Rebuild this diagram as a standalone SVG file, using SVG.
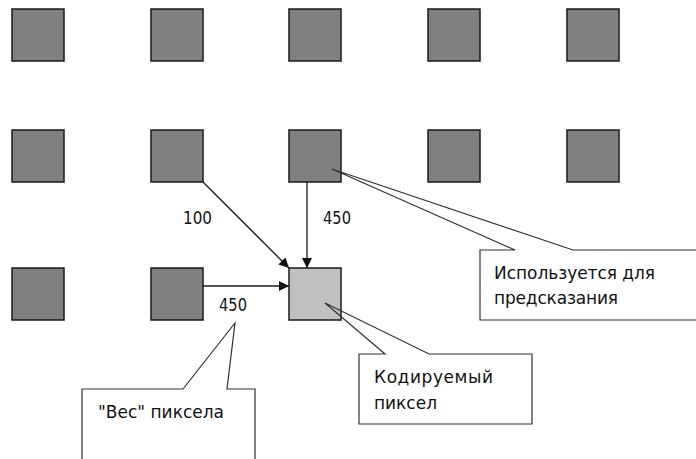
<svg xmlns="http://www.w3.org/2000/svg" width="696" height="459" viewBox="0 0 696 459">
<style>
.px{fill:#808080;stroke:#1a1a1a;stroke-width:1.5}
.cur{fill:#c0c0c0;stroke:#1a1a1a;stroke-width:1.5}
.conn{stroke:#1a1a1a;stroke-width:1.3;fill:none}
.cb{fill:#ffffff;stroke:none}
.co{fill:none;stroke:#333333;stroke-width:1.2;stroke-linejoin:miter}
.t{font-family:"DejaVu Sans","Liberation Sans",sans-serif;font-size:17px;fill:#111111}
</style>
<defs>
<marker id="ah" viewBox="0 0 10 10" refX="10" refY="5" markerWidth="10" markerHeight="10" markerUnits="userSpaceOnUse" orient="auto">
<path d="M0,0 L10,5 L0,10 Z" fill="#111111"/>
</marker>
</defs>
<rect width="696" height="459" fill="#ffffff"/>
<g id="row1">
<rect id="p11" class="px" x="12" y="9" width="52" height="52"/>
<rect id="p12" class="px" x="151" y="9" width="52" height="52"/>
<rect id="p13" class="px" x="289" y="9" width="52" height="52"/>
<rect id="p14" class="px" x="428" y="9" width="52" height="52"/>
<rect id="p15" class="px" x="567" y="9" width="52" height="52"/>
</g>
<g id="row2">
<rect id="p21" class="px" x="12" y="130" width="52" height="52"/>
<rect id="p22" class="px" x="151" y="130" width="52" height="52"/>
<rect id="p23" class="px" x="289" y="130" width="52" height="52"/>
<rect id="p24" class="px" x="428" y="130" width="52" height="52"/>
<rect id="p25" class="px" x="567" y="130" width="52" height="52"/>
</g>
<g id="row3">
<rect id="p31" class="px" x="12" y="268" width="52" height="52"/>
<rect id="p32" class="px" x="151" y="268" width="52" height="52"/>
<rect id="p33" class="cur" x="289" y="268" width="52" height="52"/>
</g>
<g id="connectors">
<line class="conn" x1="203" y1="182" x2="289" y2="268" marker-end="url(#ah)"/>
<line class="conn" x1="307" y1="182" x2="307" y2="268" marker-end="url(#ah)"/>
<line class="conn" x1="203" y1="286" x2="289" y2="286" marker-end="url(#ah)"/>
</g>
<g id="weights">
<text class="t" x="183" y="224" textLength="29" lengthAdjust="spacingAndGlyphs">100</text>
<text class="t" x="323" y="224" textLength="28" lengthAdjust="spacingAndGlyphs">450</text>
<text class="t" x="219" y="311" textLength="28" lengthAdjust="spacingAndGlyphs">450</text>
</g>
<g id="callout-predict">
<rect class="cb" x="480" y="250" width="220" height="70"/>
<path class="co" d="M700,320 H480 V250 H515 L332,169 L573,250 H700"/>
<text class="t" x="494" y="279" textLength="161" lengthAdjust="spacing">Используется для</text>
<text class="t" x="494" y="304" textLength="124" lengthAdjust="spacing">предсказания</text>
</g>
<g id="callout-coded">
<rect class="cb" x="359" y="354" width="173" height="70"/>
<path class="co" d="M359,354 H385 L325,303 L429,354 H532 V424 H359 Z"/>
<text class="t" x="374" y="383" textLength="119" lengthAdjust="spacing">Кодируемый</text>
<text class="t" x="374" y="409" textLength="63" lengthAdjust="spacing">пиксел</text>
</g>
<g id="callout-weight">
<rect class="cb" x="82" y="389" width="173" height="80"/>
<path class="co" d="M82,470 V389 H183 L235,323 L227,389 H255 V470"/>
<text class="t" x="98" y="418" textLength="126" lengthAdjust="spacing">"Вес" пиксела</text>
</g>
</svg>
